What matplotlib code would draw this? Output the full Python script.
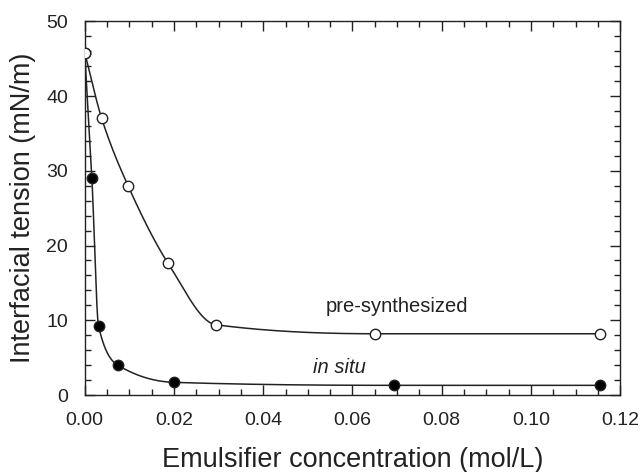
import numpy as np
import matplotlib
matplotlib.use("Agg")
import matplotlib.pyplot as plt
from matplotlib.ticker import MultipleLocator

plt.rcParams['font.family'] = ['Liberation Sans', 'DejaVu Sans']

# data
pre_x = [0.0, 0.0038, 0.0097, 0.0187, 0.0294, 0.065, 0.1155]
pre_y = [45.8, 37.0, 28.0, 17.6, 9.4, 8.2, 8.2]

situ_x = [0.0, 0.0016, 0.0031, 0.0074, 0.0200, 0.0692, 0.1155]
situ_y = [45.8, 29.0, 9.2, 4.0, 1.7, 1.3, 1.3]


def pchip(x, y, xs):
    # monotone cubic curve through the measured points (guide for the eye)
    x = np.asarray(x, float)
    y = np.asarray(y, float)
    h = np.diff(x)
    d = np.diff(y) / h
    m = np.zeros_like(y)
    for k in range(1, len(x) - 1):
        if d[k - 1] * d[k] > 0:
            w1 = 2 * h[k] + h[k - 1]
            w2 = h[k] + 2 * h[k - 1]
            m[k] = (w1 + w2) / (w1 / d[k - 1] + w2 / d[k])
    m[0] = d[0]
    m[-1] = 0.0
    idx = np.clip(np.searchsorted(x, xs) - 1, 0, len(h) - 1)
    t = (xs - x[idx]) / h[idx]
    h00 = 2 * t**3 - 3 * t**2 + 1
    h10 = t**3 - 2 * t**2 + t
    h01 = -2 * t**3 + 3 * t**2
    h11 = t**3 - t**2
    return (h00 * y[idx] + h10 * h[idx] * m[idx]
            + h01 * y[idx + 1] + h11 * h[idx] * m[idx + 1])


fig = plt.figure(figsize=(6.42, 4.72), dpi=100)
ax = fig.add_axes([0.132, 0.163, 0.834, 0.792])

# in situ first so the shared open point at x=0 stays on top
for xs_, ys_, face in [(situ_x, situ_y, 'black'), (pre_x, pre_y, 'white')]:
    xx = np.linspace(xs_[0], xs_[-1], 2000)
    ax.plot(xx, pchip(xs_, ys_, xx), color='#222222', lw=1.1, zorder=2)
    ax.plot(xs_, ys_, 'o', ms=7.5, mfc=face, mec='#222222', mew=1.0, zorder=3)

ax.text(0.0699, 11.8, 'pre-synthesized', fontsize=14.5, ha='center', va='center', color='#222222')
ax.text(0.057, 3.7, 'in situ', fontsize=14.5, style='italic', ha='center', va='center', color='#222222')

ax.set_xlim(0, 0.12)
ax.set_ylim(0, 50)
ax.xaxis.set_major_locator(MultipleLocator(0.02))
ax.xaxis.set_minor_locator(MultipleLocator(0.005))
ax.yaxis.set_major_locator(MultipleLocator(10))
ax.yaxis.set_minor_locator(MultipleLocator(2))
ax.xaxis.set_major_formatter(plt.FuncFormatter(lambda v, p: f'{v:.2f}'))
ax.tick_params(which='both', direction='in', top=True, right=True,
               labelsize=14, colors='#222222', width=1.0)
ax.tick_params(which='major', length=7, pad=12)
ax.tick_params(which='minor', length=4)
for s in ax.spines.values():
    s.set_linewidth(1.0)
    s.set_color('#222222')

ax.set_xlabel('Emulsifier concentration (mol/L)', fontsize=19.5, labelpad=13, color='#222222')
ax.set_ylabel('Interfacial tension (mN/m)', fontsize=19.5, labelpad=7, color='#222222')

fig.savefig('out.png', dpi=100)
